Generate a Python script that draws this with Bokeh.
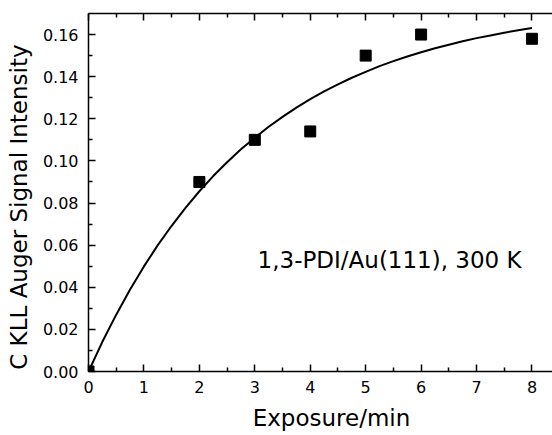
from bokeh.plotting import figure
from bokeh.models import Range1d, LinearAxis, FixedTicker, PrintfTickFormatter, Label
from bokeh.embed import file_html
from bokeh.resources import INLINE

# Measured data points
exposure_min = [0, 2, 3, 4, 5, 6, 8]
auger_signal = [0.0, 0.090, 0.110, 0.114, 0.150, 0.160, 0.158]

# Fitted curve
fit_x = [0, 0.25, 0.5, 0.75, 1, 1.25, 1.5, 1.75, 2, 2.25, 2.5, 2.75, 3, 3.25,
         3.5, 3.75, 4, 4.25, 4.5, 4.75, 5, 5.25, 5.5, 5.75, 6, 6.25, 6.5,
         6.75, 7, 7.25, 7.5, 7.75, 8]
fit_y = [0.0, 0.0141, 0.0270, 0.0389, 0.0499, 0.0600, 0.0692, 0.0777, 0.0856,
         0.0928, 0.0994, 0.1055, 0.1110, 0.1162, 0.1209, 0.1253, 0.1293,
         0.1330, 0.1363, 0.1395, 0.1423, 0.1450, 0.1474, 0.1496, 0.1516,
         0.1535, 0.1552, 0.1568, 0.1583, 0.1596, 0.1609, 0.1620, 0.1631]

x_ticks = [0, 1, 2, 3, 4, 5, 6, 7, 8]
x_minor = [0.5, 1.5, 2.5, 3.5, 4.5, 5.5, 6.5, 7.5]
y_ticks = [0.00, 0.02, 0.04, 0.06, 0.08, 0.10, 0.12, 0.14, 0.16]
y_minor = [0.01, 0.03, 0.05, 0.07, 0.09, 0.11, 0.13, 0.15]

x_title = "Exposure/min"
y_title = "C KLL Auger Signal Intensity"
note = "1,3-PDI/Au(111), 300 K"

FONT = "DejaVu Sans"
NBSP = "\u00a0"

p = figure(width=552, height=435, output_backend="svg", toolbar_location=None,
           x_range=Range1d(0, 8.37), y_range=Range1d(0, 0.17),
           x_axis_type=None, y_axis_type=None,
           min_border_left=88, min_border_right=0, min_border_top=13,
           min_border_bottom=64)
p.outline_line_color = None
p.grid.visible = False
p.background_fill_color = "white"
p.border_fill_color = "white"

def style(ax, show_labels):
    ax.axis_line_width = 1.5
    ax.axis_line_color = "black"
    ax.major_tick_in = 7
    ax.major_tick_out = 0
    ax.minor_tick_in = 4
    ax.minor_tick_out = 0
    ax.major_tick_line_width = 1.5
    ax.minor_tick_line_width = 1.5
    ax.major_tick_line_color = "black"
    ax.minor_tick_line_color = "black"
    if show_labels:
        ax.major_label_text_font = FONT
        ax.major_label_text_font_size = "16px"
        ax.major_label_text_color = "black"
        ax.major_label_standoff = 9
        ax.axis_label_text_font = FONT
        ax.axis_label_text_font_size = "23px"
        ax.axis_label_text_font_style = "normal"
        ax.axis_label_text_color = "black"
    else:
        ax.major_label_text_font_size = "0px"
        ax.major_label_text_color = None
        ax.major_label_standoff = 0

xb = LinearAxis(ticker=FixedTicker(ticks=x_ticks, minor_ticks=x_minor),
                axis_label=NBSP * 3 + x_title)
style(xb, True)
xb.axis_label_standoff = 9
p.add_layout(xb, "below")

xt = LinearAxis(ticker=FixedTicker(ticks=x_ticks, minor_ticks=x_minor))
style(xt, False)
p.add_layout(xt, "above")

yl = LinearAxis(ticker=FixedTicker(ticks=y_ticks, minor_ticks=y_minor),
                formatter=PrintfTickFormatter(format="%.2f"),
                axis_label=y_title + NBSP * 4)
style(yl, True)
yl.major_label_standoff = 10
yl.axis_label_standoff = 8
p.add_layout(yl, "left")

p.line(fit_x, fit_y, line_color="black", line_width=2)
p.scatter(exposure_min, auger_signal, marker="square", size=11,
          fill_color="black", line_color="black")

p.add_layout(Label(x=3.05, y=0.053, text=note, text_font=FONT,
                   text_font_size="23px", text_color="black",
                   text_align="left", text_baseline="alphabetic"))

open("out.html", "w").write(file_html(p, INLINE))
